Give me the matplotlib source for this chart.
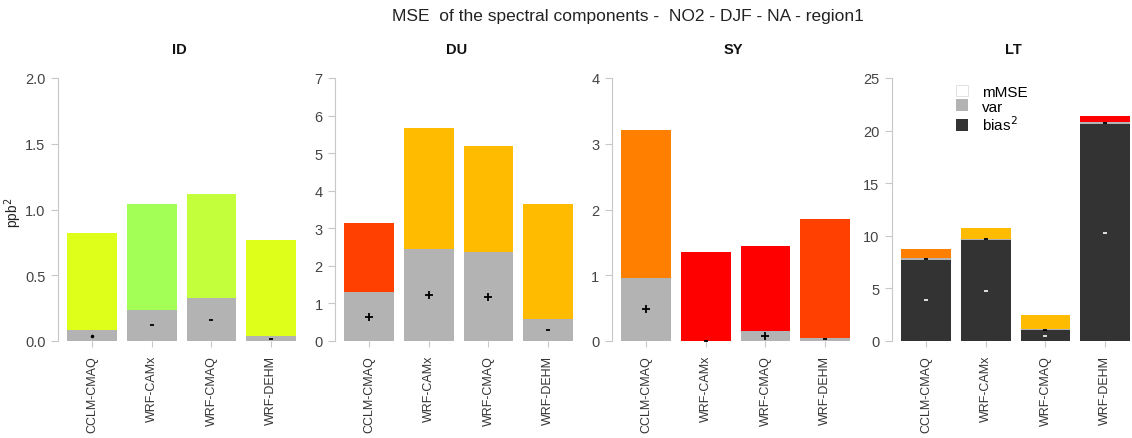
import matplotlib
matplotlib.use("Agg")
import matplotlib.pyplot as plt
from matplotlib.patches import Patch
import numpy as np

plt.rcParams['font.family'] = ['Liberation Sans', 'DejaVu Sans']

models = ["CCLM-CMAQ", "WRF-CAMx", "WRF-CMAQ", "WRF-DEHM"]
panels = ["ID", "DU", "SY", "LT"]

# values per panel (ppb^2)
bias_ID = [0.0, 0.0, 0.0, 0.0]
var_ID = [0.080, 0.237, 0.326, 0.036]
mmse_ID = [0.745, 0.805, 0.790, 0.735]

bias_DU = [0.0, 0.0, 0.0, 0.0]
var_DU = [1.30, 2.45, 2.36, 0.59]
mmse_DU = [1.83, 3.21, 2.84, 3.05]

bias_SY = [0.0, 0.0, 0.0, 0.0]
var_SY = [0.96, 0.005, 0.146, 0.05]
mmse_SY = [2.25, 1.345, 1.294, 1.81]

bias_LT = [7.7, 9.6, 1.0, 20.6]
var_LT = [0.15, 0.12, 0.12, 0.20]
mmse_LT = [0.89, 1.04, 1.31, 0.62]

# sign markers ('+' positive, '-' negative, '.' ~zero)
varsign_ID = [".", "-", "-", "-"]
varsign_DU = ["+", "+", "+", "-"]
varsign_SY = ["+", "-", "+", "-"]
varsign_LT = ["-", "-", "-", "-"]
biassign_LT = ["-", "-", "-", "-"]

col_ID = ["#DDFF1A", "#A3FF55", "#C4FF3C", "#DDFF1A"]
col_DU = ["#FF4000", "#FFBB00", "#FFBB00", "#FFBB00"]
col_SY = ["#FF8000", "#FF0000", "#FF0000", "#FF4000"]
col_LT = ["#FF8000", "#FFBB00", "#FFBB00", "#FF0000"]

ymax = [2.0, 7, 4, 25]
yticks = [[0.0, 0.5, 1.0, 1.5, 2.0], list(range(0, 8)), list(range(0, 5)), [0, 5, 10, 15, 20, 25]]
yfmt = ["{:.1f}", "{:d}", "{:d}", "{:d}"]

data = {
    "ID": (bias_ID, var_ID, mmse_ID, col_ID, varsign_ID, None),
    "DU": (bias_DU, var_DU, mmse_DU, col_DU, varsign_DU, None),
    "SY": (bias_SY, var_SY, mmse_SY, col_SY, varsign_SY, None),
    "LT": (bias_LT, var_LT, mmse_LT, col_LT, varsign_LT, biassign_LT),
}

MARK = {"+": ("+", 5.5), "-": ("_", 3.5), ".": (".", 2.5)}

BIASC = "#333333"
VARC = "#B3B3B3"
AXC = "#C8C8C8"

W, H = 1132, 439
fig = plt.figure(figsize=(W / 100, H / 100), dpi=100)

lefts = [58, 335, 612, 892]
aw = 243
ab, at = 342, 79

fig.text(628 / W, 1 - 16 / H, "MSE  of the spectral components -  NO2 - DJF - NA - region1",
         ha="center", va="center", fontsize=12.5, color="#222222")
fig.text(13 / W, 1 - 213 / H, "ppb$^2$", rotation=90, ha="center", va="center",
         fontsize=10, color="#222222")

x = np.arange(1, 5)
for i, p in enumerate(panels):
    bias, var, mmse, cols, vs, bs = data[p]
    ax = fig.add_axes([lefts[i] / W, 1 - ab / H, aw / W, (ab - at) / H])
    bias = np.array(bias); var = np.array(var); mmse = np.array(mmse)
    ax.bar(x, bias, width=0.83, color=BIASC, linewidth=0)
    ax.bar(x, var, width=0.83, bottom=bias, color=VARC, linewidth=0)
    ax.bar(x, mmse, width=0.83, bottom=bias + var, color=cols, linewidth=0)
    for j in range(4):
        m, ms = MARK[vs[j]]
        ax.plot([x[j]], [bias[j] + var[j] / 2], marker=m, markersize=ms,
                markeredgewidth=1.3, color="black", linestyle="none", clip_on=False)
        if bs is not None and bias[j] > 0:
            m, ms = MARK[bs[j]]
            ax.plot([x[j]], [bias[j] / 2], marker=m, markersize=ms,
                    markeredgewidth=1.3, color="#EEEEEE", linestyle="none")
    ax.set_xlim(0.43, 4.5)
    ax.set_ylim(0, ymax[i])
    for s in ["top", "right", "bottom"]:
        ax.spines[s].set_visible(False)
    ax.spines["left"].set_color(AXC)
    ax.spines["left"].set_bounds(0, ymax[i])
    ax.set_yticks(yticks[i])
    ax.set_yticklabels([yfmt[i].format(v) for v in yticks[i]])
    ax.tick_params(axis="y", colors=AXC, labelcolor="#444444", labelsize=10.5, length=5, pad=4)
    ax.set_xticks(x)
    ax.set_xticklabels(models, rotation=90)
    ax.tick_params(axis="x", colors=AXC, labelcolor="#333333", labelsize=9, length=4, pad=6)
    ax.set_title(p, fontsize=10.5, fontweight="bold", pad=18, color="#111111")
    if p == "LT":
        handles = [Patch(facecolor="white", edgecolor="#DDDDDD", linewidth=0.6),
                   Patch(facecolor=VARC, edgecolor="none"),
                   Patch(facecolor=BIASC, edgecolor="none")]
        ax.legend(handles, ["mMSE", "var", "bias$^2$"], loc="upper left",
                  bbox_to_anchor=(0.262, 0.975), frameon=False, fontsize=11,
                  handlelength=0.8, handleheight=0.8, labelspacing=0.05,
                  handletextpad=0.9, borderpad=0, borderaxespad=0)

fig.savefig("out.png", dpi=100)
